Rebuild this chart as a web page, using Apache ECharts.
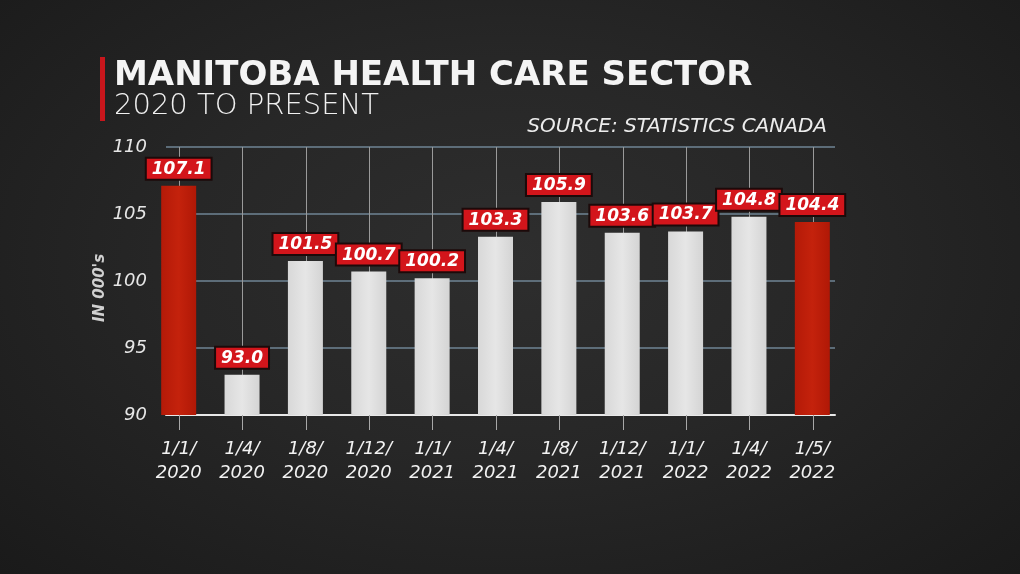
<!DOCTYPE html>
<html>
<head>
<meta charset="utf-8">
<script src="https://cdn.jsdelivr.net/npm/echarts@6/dist/echarts.min.js"></script>
<style>
html,body{margin:0;padding:0;}
body{width:1020px;height:574px;background:radial-gradient(ellipse at 50% 45%, #2e2e2e 0%, #272727 45%, #1a1a1a 100%);}
#c{width:1020px;height:574px;}
</style>
</head>
<body>
<div id="c"></div>
<script>
const categories = ['1/1/\n2020','1/4/\n2020','1/8/\n2020','1/12/\n2020','1/1/\n2021','1/4/\n2021','1/8/\n2021','1/12/\n2021','1/1/\n2022','1/4/\n2022','1/5/\n2022'];
const values = [107.1, 93.0, 101.5, 100.7, 100.2, 103.3, 105.9, 103.6, 103.7, 104.8, 104.4];
const yMin = 90, yMax = 110, yStep = 5;
const titleText = 'MANITOBA HEALTH CARE SECTOR';
const subtitleText = '2020 TO PRESENT';
const sourceText = 'SOURCE: STATISTICS CANADA';
const yAxisTitle = "IN 000's";

const chart = echarts.init(document.getElementById('c'), null, {renderer:'canvas'});
const last = values.length - 1;
const barData = values.map((v, i) => ({
  value: v,
  itemStyle: (i === 0 || i === last) ? {
    color: new echarts.graphic.LinearGradient(0,0,1,0,[{offset:0,color:'#b41a08'},{offset:0.5,color:'#c4220c'},{offset:1,color:'#b01806'}])
  } : {
    color: new echarts.graphic.LinearGradient(0,0,1,0,[{offset:0,color:'#d8d8d8'},{offset:0.5,color:'#e6e6e6'},{offset:1,color:'#d4d4d4'}])
  }
}));

const TOP = 147, BOTTOM = 574 - 415;

chart.setOption({
  backgroundColor: 'transparent',
  animation: false,
  grid: [
    {left: 147, right: 176, top: TOP, bottom: BOTTOM},
    {left: 166, right: 185, top: TOP, bottom: BOTTOM},
    {left: 179, right: 207, top: TOP, bottom: BOTTOM}
  ],
  xAxis: [
    {gridIndex:0, type:'category', data: categories,
      axisLine:{show:false}, axisTick:{show:false}, splitLine:{show:false},
      axisLabel:{color:'#f2f2f2', fontSize:18, fontStyle:'italic', fontFamily:'DejaVu Sans', lineHeight:24, margin:22, interval:0}},
    {gridIndex:1, type:'value', min:0, max:1, show:true,
      axisLine:{show:true, lineStyle:{color:'#e8e8e8', width:2}}, axisTick:{show:false}, axisLabel:{show:false}, splitLine:{show:false}},
    {gridIndex:2, type:'value', min:0, max: values.length - 1, interval:1,
      axisLine:{show:false}, axisTick:{show:true, length:15, lineStyle:{color:'#a8a8a8', width:1}},
      axisLabel:{show:false}, splitLine:{show:true, lineStyle:{color:'#9a9a9a', width:1}}}
  ],
  yAxis: [
    {gridIndex:0, type:'value', min:yMin, max:yMax, interval:yStep,
      axisLine:{show:false}, axisTick:{show:false}, splitLine:{show:false},
      axisLabel:{color:'#e6e6e6', fontSize:18, fontStyle:'italic', fontFamily:'DejaVu Sans', margin:0}},
    {gridIndex:1, type:'value', min:yMin, max:yMax, interval:yStep,
      axisLine:{show:false}, axisTick:{show:false}, axisLabel:{show:false},
      splitLine:{show:true, lineStyle:{color:'#6f8594', width:1.5}}},
    {gridIndex:2, type:'value', min:0, max:1, show:false}
  ],
  series: [{
    type:'bar', xAxisIndex:0, yAxisIndex:0, data: barData, barWidth:35, z:5,
    label:{show:true, position:'top', distance:7,
      formatter: p => p.value.toFixed(1),
      color:'#ffffff', fontSize:17, fontWeight:'bold', fontStyle:'italic', fontFamily:'DejaVu Sans',
      backgroundColor:'#d3151b', borderColor:'#1c0a0a', borderWidth:2, padding:[2,5,1,5]}
  }],
  graphic: [
    {type:'rect', left:100, top:57, shape:{width:5, height:64}, style:{fill:'#c8161c'}},
    {type:'text', left:114, top:59, style:{text:titleText, fill:'#f4f4f4', font:'bold 34px "DejaVu Sans"'}},
    {type:'text', left:114, top:92, style:{text:subtitleText, fill:'#f0f0f0', font:'300 29px "DejaVu Sans"'}},
    {type:'text', right:193, top:117, style:{text:sourceText, fill:'#ececec', font:'italic 20px "DejaVu Sans"'}},
    {type:'text', x:100, y:288, rotation:Math.PI/2, style:{text:yAxisTitle, fill:'#d0d0d0', font:'italic bold 15px "DejaVu Sans"', align:'center', verticalAlign:'middle'}}
  ]
});
</script>
</body>
</html>
